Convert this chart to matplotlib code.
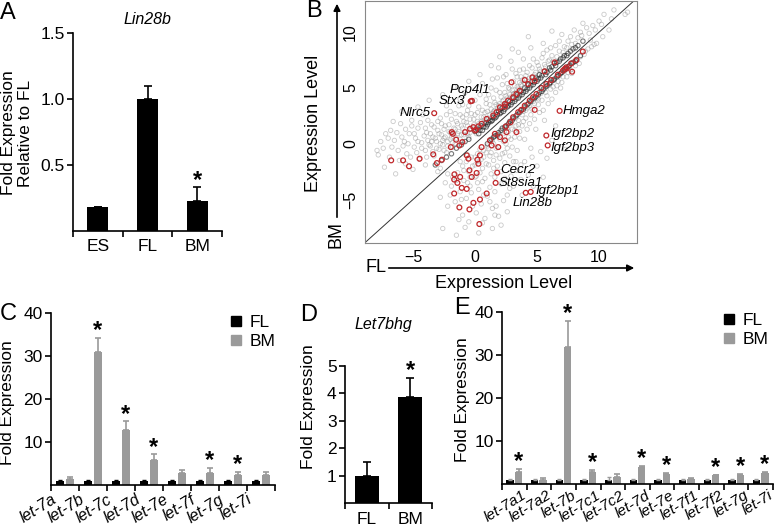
import numpy as np
import matplotlib
matplotlib.use("Agg")
import matplotlib.pyplot as plt
from matplotlib.lines import Line2D

plt.rcParams['font.family'] = ['Liberation Sans', 'DejaVu Sans']

W, H = 777, 532

# ---- data ----
# panel A
a_cats = ['ES', 'FL', 'BM']
a_vals = [0.18, 1.0, 0.23]
a_errs = [0.0, 0.10, 0.10]
a_star = [False, False, True]

# panel C
c_cats = ['let-7a', 'let-7b', 'let-7c', 'let-7d', 'let-7e', 'let-7f', 'let-7g', 'let-7i']
c_fl = [1.0, 1.0, 1.0, 1.0, 1.0, 1.0, 1.0, 1.0]
c_fl_err = [0.1, 0.1, 0.1, 0.1, 0.1, 0.1, 0.1, 0.1]
c_bm = [1.5, 30.9, 12.8, 5.7, 2.8, 2.9, 2.3, 2.4]
c_bm_err = [0.3, 3.4, 2.0, 1.4, 0.8, 1.0, 0.7, 0.7]
c_star = [False, True, True, True, False, True, True, False]

# panel D
d_cats = ['FL', 'BM']
d_vals = [1.0, 3.87]
d_errs = [0.5, 0.7]
d_star = [False, True]

# panel E
e_cats = ['let-7a1', 'let-7a2', 'let-7b', 'let-7c1', 'let-7c2', 'let-7d',
          'let-7e', 'let-7f1', 'let-7f2', 'let-7g', 'let-7i']
e_fl = [1.0, 1.0, 1.0, 1.0, 1.0, 1.0, 1.0, 1.0, 1.0, 1.0, 1.0]
e_fl_err = [0.1, 0.2, 0.1, 0.1, 0.7, 0.1, 0.1, 0.1, 0.1, 0.1, 0.1]
e_bm = [2.8, 1.0, 31.9, 2.7, 1.55, 3.9, 2.25, 1.15, 2.0, 2.1, 2.5]
e_bm_err = [0.7, 0.3, 6.1, 0.5, 0.7, 0.4, 0.35, 0.25, 0.2, 0.15, 0.3]
e_star = [True, False, True, True, False, True, True, False, True, True, True]

# panel B: scatter of expression levels (FL vs BM)
gray_cloud = [
    # upper band
    (-7.8, -1.0), (-7.2, 0.9), (-6.8, 1.2), (-6.5, 0.3), (-6.2, -0.6), (-6.0, 1.8), (-5.7, 0.2),
    (-5.5, -0.9), (-5.3, 0.9), (-5.1, 2.1), (-4.9, -0.3), (-4.8, 0.5), (-4.6, 1.4), (-4.5, -1.4),
    (-4.3, 0.1), (-4.2, 2.6), (-4.0, -0.6), (-3.9, 1.0), (-3.8, 0.3), (-3.6, -0.2), (-3.5, 1.7),
    (-3.4, 0.6), (-3.3, -1.1), (-3.1, 0.2), (-3.0, 1.2), (-2.9, -0.5), (-2.8, 2.3), (-2.7, 0.8),
    (-2.6, -0.1), (-2.5, 0.5), (-2.4, 1.6), (-2.3, -0.8), (-2.2, 0.2), (-2.1, 1.1), (-2.0, 2.9),
    (-1.9, 0.6), (-1.8, -0.3), (-1.7, 1.4), (-1.6, 0.0), (-1.5, 2.0), (-1.4, 0.9), (-1.3, 3.4),
    (-1.2, 0.4), (-1.1, 1.6), (-1.0, 2.4), (-0.9, 0.8), (-0.8, 4.6), (-0.7, 1.9), (-0.6, 3.0),
    (-0.5, 0.6), (-0.4, 2.2), (-0.3, 1.3), (-0.2, 3.8), (-0.1, 1.7), (0.0, 2.6), (0.1, 0.9),
    (0.2, 2.0), (0.3, 3.3), (0.4, 1.5), (0.5, 2.4), (0.6, 5.4), (0.7, 1.9), (0.8, 2.8),
    (0.9, 3.6), (1.0, 2.2), (1.1, 4.4), (1.2, 2.6), (1.3, 3.1), (1.4, 5.8), (1.5, 2.9),
    (1.6, 3.7), (1.7, 4.8), (1.8, 3.2), (1.9, 6.8), (2.0, 3.6), (2.1, 4.2), (2.2, 5.3),
    (2.3, 3.9), (2.4, 4.6), (2.5, 6.2), (2.6, 4.1), (2.7, 5.0), (2.8, 4.4), (2.9, 7.4),
    (3.0, 4.8), (3.1, 5.6), (3.2, 4.5), (3.3, 6.3), (3.4, 5.1), (3.5, 8.2), (3.6, 5.5),
    (3.7, 6.0), (3.8, 5.2), (3.9, 6.7), (4.0, 5.8), (4.2, 6.4), (4.4, 5.9), (4.5, 8.6),
    (4.6, 6.8), (4.8, 6.2), (5.0, 7.3), (5.2, 6.7), (5.4, 7.7), (5.6, 7.1), (5.8, 8.4),
    (6.0, 7.5), (6.2, 7.9), (6.5, 8.8), (6.8, 8.3), (7.0, 9.8), (7.2, 8.7), (7.5, 9.2),
    (7.8, 8.9), (8.0, 10.2), (8.3, 9.5), (8.6, 9.7), (9.0, 10.4), (9.5, 10.6), (10.0, 11.0),
    (10.8, 10.2), (11.2, 12.0), (12.1, 11.6), (12.3, 11.8),
    (-7.6, 0.2), (-7.4, -0.4), (-7.0, 0.5), (-6.7, -0.3), (-6.6, 2.0), (-6.3, 1.0), (-6.1, -1.5),
    (-5.9, 0.6), (-5.8, -0.2), (-5.6, 1.3), (-5.4, 0.0), (-5.2, -1.2), (-5.1, 1.6), (-4.9, 0.9),
    (-4.7, -0.8), (-4.6, 0.2), (-4.4, 1.9), (-4.3, -0.4), (-4.1, 0.7), (-4.0, 1.4), (-3.9, -1.2),
    (-3.8, 2.1), (-3.7, -0.1), (-3.6, 0.9), (-3.5, 0.2), (-3.4, -0.7), (-3.3, 1.5), (-3.2, 0.5),
    (-3.1, -0.4), (-3.0, 2.0), (-2.9, 0.9), (-2.8, 0.0), (-2.7, 1.8), (-2.6, 0.3), (-2.5, -0.6),
    (-2.5, 1.3), (-2.4, 0.6), (-2.3, 2.6), (-2.2, -0.2), (-2.1, 1.7), (-2.0, 0.4), (-2.0, 1.0),
    (-1.9, 2.2), (-1.8, 0.1), (-1.7, 0.9), (-1.6, 2.7), (-1.6, 1.3), (-1.5, 0.5), (-1.4, 1.8),
    (-1.3, -0.2), (-1.3, 1.1), (-1.2, 2.6), (-1.1, 0.8), (-1.0, 1.4), (-1.0, 3.5), (-0.9, 2.0),
    (-0.8, 1.1), (-0.7, 2.6), (-0.6, 0.9), (-0.6, 1.6), (-0.5, 3.4), (-0.4, 1.0), (-0.3, 2.7),
    (-0.2, 1.5), (-0.1, 2.2), (0.0, 3.9), (0.1, 1.4), (0.2, 2.8), (0.3, 1.8), (0.4, 4.4),
    (0.5, 2.0), (0.6, 3.0), (0.7, 2.4), (0.8, 1.8), (0.9, 4.0), (1.0, 2.9), (1.1, 2.3),
    (1.2, 3.5), (1.3, 5.0), (1.4, 2.7), (1.5, 4.1), (1.6, 3.0), (1.7, 3.5), (1.8, 5.9),
    (1.9, 3.4), (2.0, 4.6), (2.1, 3.3), (2.2, 3.8), (2.3, 6.0), (2.4, 3.6), (2.5, 4.3),
    (2.6, 5.4), (2.7, 3.9), (2.8, 4.9), (2.9, 4.2), (3.0, 6.7), (3.1, 4.5), (3.2, 5.2),
    (3.3, 4.6), (3.4, 6.0), (3.5, 4.9), (3.6, 6.6), (3.7, 5.3), (3.8, 5.7), (3.9, 7.6),
    (4.0, 5.4), (4.1, 6.1), (4.3, 5.6), (4.4, 7.0), (4.6, 6.0), (4.7, 7.6), (4.9, 6.4),
    (5.1, 7.0), (5.3, 6.5), (5.5, 8.1), (5.7, 6.9), (5.9, 7.4), (6.1, 8.6), (6.3, 7.4),
    (6.6, 7.8), (6.8, 9.2), (7.1, 8.2), (7.4, 8.6), (7.7, 9.6), (8.1, 9.0), (8.5, 10.0),
    (9.2, 9.9), (9.7, 10.2), (10.2, 10.7),
    # lower band
    (-1.0, -2.0), (-0.7, -1.6), (-0.5, -2.5), (-0.3, -1.2), (0.0, -1.9), (0.2, -0.9), (0.4, -2.6),
    (0.5, -1.4), (0.7, -0.6), (0.9, -1.8), (1.0, -0.2), (1.2, -1.1), (1.4, 0.3), (1.5, -2.2),
    (1.7, -0.4), (1.8, 0.7), (2.0, -1.3), (2.1, 1.0), (2.3, 0.2), (2.4, -0.8), (2.6, 1.4),
    (2.7, 0.6), (2.9, 1.8), (3.0, -0.3), (3.2, 1.2), (3.3, 2.3), (3.5, 1.7), (3.6, 0.5),
    (3.8, 2.6), (3.9, 2.0), (4.1, 3.0), (4.2, 1.3), (4.4, 3.4), (4.5, 2.6), (4.7, 3.8),
    (4.8, 2.2), (5.0, 4.1), (5.1, 3.5), (5.3, 4.5), (5.5, 3.0), (5.6, 4.9), (5.8, 4.3),
    (6.0, 5.3), (6.2, 4.0), (6.4, 5.7), (6.6, 5.2), (6.8, 6.1), (7.0, 5.5), (7.2, 6.5),
    (7.4, 6.0), (7.6, 6.9), (7.8, 6.3), (8.0, 7.3), (8.2, 7.6), (8.5, 7.8), (8.8, 8.0),
    (9.1, 8.5), (9.4, 8.7), (9.8, 9.0), (10.3, 9.6),
    (-1.2, -1.6), (-0.9, -2.4), (-0.6, -1.0), (-0.4, -3.0), (-0.2, -2.0), (0.0, -1.2), (0.1, -2.9),
    (0.3, -1.6), (0.4, -0.5), (0.6, -2.2), (0.7, -1.2), (0.8, -3.1), (0.9, -0.8), (1.1, -1.9),
    (1.1, -0.4), (1.3, -2.7), (1.3, -0.8), (1.5, -1.5), (1.5, 0.0), (1.6, -3.0), (1.7, -1.0),
    (1.8, -2.0), (1.9, -0.3), (2.0, 0.4), (2.1, -2.5), (2.2, -0.9), (2.3, 0.9), (2.4, -1.7),
    (2.5, 0.0), (2.6, -0.4), (2.7, 1.1), (2.8, -1.1), (2.9, 0.4), (3.0, 1.3), (3.1, -1.6),
    (3.2, 0.6), (3.3, 1.6), (3.4, -0.6), (3.5, 2.1), (3.6, 1.1), (3.7, -1.9), (3.8, 1.6),
    (3.9, 2.9), (4.0, 0.4), (4.1, 2.3), (4.2, 3.2), (4.4, 1.8), (4.5, -0.4), (4.6, 3.1),
    (4.8, 3.6), (4.9, 1.3), (5.1, 4.0), (5.2, 2.8), (5.4, 3.9), (5.6, 2.1), (5.7, 4.6),
    (5.9, 3.6), (6.1, 4.9), (6.3, 5.1), (6.5, 4.6), (6.7, 5.6), (6.9, 5.0), (7.1, 6.0),
    (7.5, 6.4), (7.7, 6.6), (8.1, 7.0), (8.4, 7.2), (8.9, 8.3), (9.6, 8.9),
    # scattered below the diagonal
    (-2.8, -2.2), (-2.4, -3.5), (-2.0, -4.6), (-1.8, -3.0), (-1.6, -5.2), (-1.4, -2.6), (-1.2, -4.3),
    (-1.0, -6.4), (-0.9, -3.3), (-0.7, -4.9), (-0.5, -7.0), (-0.4, -3.8), (-0.2, -5.6), (0.0, -3.0),
    (0.1, -6.2), (0.3, -4.1), (0.5, -5.4), (0.6, -3.4), (0.8, -6.7), (1.0, -4.7), (1.2, -3.9),
    (1.4, -5.8), (1.6, -4.3), (1.9, -6.5), (2.1, -3.6), (2.3, -5.1), (2.6, -4.6), (2.9, -2.9),
    (3.1, -3.8), (3.4, -2.4), (3.7, -3.2), (4.0, -1.6), (4.3, -2.8), (4.6, -1.2), (5.0, -2.0),
    (5.3, -0.7), (5.8, -1.3), (6.2, 0.3), (6.5, 1.6), (7.3, -0.5), (-2.6, -7.6), (-1.5, -8.2),
    (0.3, -8.0), (2.1, -7.3), (1.4, -7.6), (-0.8, -7.5),
    (-2.2, -2.7), (-1.9, -3.8), (-1.5, -3.3), (-1.1, -5.0), (-0.6, -3.5), (-0.3, -4.4), (0.2, -3.5),
    (0.7, -4.6), (1.2, -5.2), (1.7, -5.6), (2.4, -3.1), (2.8, -4.0), (3.3, -1.6), (-2.2, -5.6),
    (-1.3, -6.8), (0.6, -7.1), (1.6, -6.4), (2.6, -6.1), (-2.8, -4.8), (3.8, -4.6), (5.5, -3.0),
    (4.7, -3.8),
    # scattered above the diagonal
    (-7.9, -0.6), (-7.3, -2.1), (-6.9, -1.2), (-6.4, -2.7), (-5.9, 2.9), (-5.6, -1.8), (-5.0, -2.3),
    (-4.6, 3.3), (-4.0, -1.9), (-3.7, 3.9), (-3.0, -2.5), (-2.6, 4.4), (-2.3, 3.4), (-1.7, 5.1),
    (-1.2, 4.0), (-0.5, 5.6), (0.4, 6.2), (1.3, 7.0), (2.0, 7.8), (3.0, 8.5), (4.3, 9.6),
    (5.5, 9.0), (6.2, 10.1), (8.7, 10.8), (9.3, 9.3), (10.4, 11.6), (11.0, 11.2),
]

# dense streaks just above and just below the diagonal
gray_core = [
    (0.0, 1.1), (0.2, 1.3), (0.4, 1.2), (0.5, 1.6), (0.7, 1.5), (0.9, 1.9), (1.0, 1.7),
    (1.2, 2.1), (1.3, 2.0), (1.5, 2.4), (1.6, 2.3), (1.8, 2.6), (1.9, 2.9), (2.1, 2.8),
    (2.2, 3.2), (2.4, 3.1), (2.5, 3.5), (2.7, 3.4), (2.8, 3.8), (3.0, 3.7), (3.1, 4.1),
    (3.3, 4.0), (3.4, 4.4), (3.6, 4.3), (3.7, 4.7), (3.9, 4.6), (4.0, 5.0), (4.2, 4.9),
    (4.3, 5.3), (4.5, 5.2), (4.6, 5.6), (4.8, 5.5), (4.9, 5.9), (5.1, 5.8), (5.2, 6.2),
    (5.4, 6.1), (5.6, 6.5), (5.8, 6.4), (6.0, 6.8), (6.2, 6.9), (6.4, 7.2), (6.6, 7.3),
    (6.9, 7.6), (7.2, 7.9), (7.5, 8.1), (7.9, 8.5), (8.3, 8.8), (8.7, 9.2), (-0.5, 0.4),
    (-0.8, 0.2), (-1.1, -0.1), (-1.5, -0.4), (-1.9, -0.9), (-2.3, -1.2), (-2.7, -1.5), (-3.2, -1.9),
    (0.3, 0.9), (0.6, 1.2), (0.9, 1.5), (1.1, 1.9), (1.4, 2.1), (1.7, 2.4), (2.0, 2.7),
    (2.3, 2.9), (2.6, 3.3), (2.9, 3.5), (3.2, 3.8), (3.5, 4.1), (3.8, 4.4), (4.1, 4.7),
    (4.4, 5.0), (4.7, 5.3), (5.0, 5.6), (5.3, 5.9), (5.7, 6.2), (6.1, 6.6), (6.5, 7.0),
    (6.8, 7.4), (7.1, 7.7), (7.4, 7.9), (7.7, 8.3), (8.1, 8.6),
    (1.0, 0.0), (1.3, 0.4), (1.6, 0.7), (1.9, 1.0), (2.2, 1.4), (2.5, 1.6), (2.8, 2.0),
    (3.1, 2.3), (3.4, 2.6), (3.7, 3.0), (4.0, 3.3), (4.3, 3.6), (4.6, 4.0), (4.9, 4.2),
    (5.2, 4.6), (5.5, 4.9), (5.8, 5.2), (6.1, 5.5), (6.4, 5.8), (6.7, 6.1), (7.0, 6.4),
    (7.3, 6.7), (7.6, 7.0), (7.9, 7.3), (8.2, 7.5),
    (1.2, 0.3), (1.5, 0.6), (1.8, 0.8), (2.1, 1.2), (2.4, 1.5), (2.7, 1.8), (3.0, 2.1),
    (3.3, 2.5), (3.6, 2.8), (3.9, 3.1), (4.2, 3.5), (4.5, 3.8), (4.8, 4.1), (5.1, 4.4),
    (5.4, 4.7), (5.7, 5.1), (6.0, 5.4), (6.3, 5.7), (6.6, 6.0), (6.9, 6.3), (7.2, 6.6),
    (7.5, 6.9), (7.8, 7.2), (8.1, 7.4), (8.5, 7.9),
]

red_pts = [
    # labelled genes
    (-3.29, 2.74), (-0.35, 3.81), (-0.25, 3.85), (6.82, 2.95), (5.75, 0.74), (5.86, -0.15),
    (1.79, -2.59), (1.66, -3.51), (4.49, -4.32), (4.09, -4.40),
    # above the diagonal
    (-6.76, -1.49), (-5.80, -1.49), (-5.32, -2.02), (-4.47, -1.34), (-3.37, -0.95), (-3.07, -1.73),
    (-2.67, -1.43), (-1.95, -0.30), (-1.79, 0.89), (-1.87, 1.04), (-1.52, 0.36), (-1.26, -0.15),
    (-1.02, 0.15), (-0.80, 1.04), (-0.40, 1.34), (-0.13, 1.49), (0.08, 1.25), (0.27, 1.55),
    (0.53, 1.79), (0.94, 2.23), (1.47, 2.53), (1.74, 2.83), (2.01, 3.27), (2.41, 3.57),
    (2.67, 3.87), (2.94, 5.51), (3.07, 4.17), (3.34, 4.46), (3.61, 4.76), (4.01, 5.71),
    (4.28, 5.36), (4.63, 5.95), (4.81, 5.65), (5.61, 6.49), (6.42, 7.29), (0.00, 1.19),
    (2.41, 3.33),
    # below the diagonal
    (-0.67, -1.04), (-0.53, -1.34), (0.27, -1.79), (0.40, -1.04), (0.53, -0.30), (1.20, 0.30),
    (1.34, -0.15), (1.60, 0.89), (1.87, -0.30), (2.01, 0.60), (2.41, 0.30), (2.54, 1.04),
    (2.49, 1.55), (2.86, 1.93), (3.07, 2.38), (3.34, 1.04), (3.48, 2.83), (3.74, 3.04),
    (4.01, 3.42), (4.41, 3.87), (4.68, 4.17), (4.95, 4.46), (5.35, 5.00), (5.75, 5.36),
    (6.15, 5.71), (6.68, 6.19), (7.09, 6.55), (7.22, 6.70), (7.35, 6.85), (7.40, 6.75),
    (7.83, 6.46), (7.75, 7.20), (8.16, 7.50), (8.69, 8.27), (4.81, 3.04),
    # far below the diagonal
    (-1.66, -2.74), (-1.68, -3.21), (-1.42, -3.51), (-1.20, -2.98), (-1.07, -3.96), (-0.67, -4.05),
    (-0.45, -2.38), (-0.27, -2.98), (0.13, -2.62), (0.19, -1.43), (0.94, -4.46), (0.40, -5.00),
    (-0.13, -5.30), (-0.45, -5.89), (-1.26, -5.71), (0.35, -7.20), (-1.68, -4.46),
]

gene_labels = ['Pcp4l1', 'Stx3', 'Nlrc5', 'Hmga2', 'Igf2bp2', 'Igf2bp3',
               'Cecr2', 'St8sia1', 'Igf2bp1', 'Lin28b']
gene_x = [-0.45, -0.8, -3.6, 7.1, 6.1, 6.1, 2.0, 1.9, 4.85, 3.0]
gene_y = [4.85, 3.81, 2.74, 2.98, 0.89, -0.36, -2.32, -3.51, -4.23, -5.27]
gene_ha = ['center', 'right', 'right', 'left', 'left', 'left', 'left', 'left', 'left', 'left']

GRAY = '#9a9a9a'
FS = 12.5


def rect(l, t, r, b):
    return [l / W, 1 - b / H, (r - l) / W, (b - t) / H]


def ftext(x, y, s, **kw):
    fig.text(x / W, 1 - y / H, s, **kw)


def style_bar_axes(ax, ncat, yticks):
    for s in ['top', 'right']:
        ax.spines[s].set_visible(False)
    for s in ['left', 'bottom']:
        ax.spines[s].set_linewidth(1.2)
    ax.set_xlim(-0.5, ncat - 0.5)
    ax.set_yticks(yticks)
    ax.tick_params(axis='y', direction='out', length=4, width=1.2, labelsize=FS, pad=2)
    ax.set_xticks(np.arange(-0.5, ncat, 1.0), minor=False)
    ax.tick_params(axis='x', direction='out', length=4, width=1.2)


def star(ax, x, y):
    ax.annotate('*', (x, y), xytext=(0, -3), textcoords='offset points',
                ha='center', va='bottom', fontsize=17, fontweight='bold')


fig = plt.figure(figsize=(W / 100, H / 100), dpi=100)

# ---------------- A ----------------
axA = fig.add_axes(rect(73, 33, 222, 231))
xa = np.arange(len(a_cats))
axA.bar(xa, a_vals, width=0.42, color='black')
axA.errorbar(xa, a_vals, yerr=[np.zeros(3), a_errs], fmt='none', ecolor='black',
             elinewidth=1.2, capsize=3, capthick=1.2)
axA.set_ylim(0, 1.5)
style_bar_axes(axA, 3, [0.5, 1.0, 1.5])
axA.set_yticklabels(['0.5', '1.0', '1.5'])
axA.set_xticklabels([])
for i, c in enumerate(a_cats):
    axA.text(i, -0.12, c, ha='center', va='center', fontsize=FS)
for i, s in enumerate(a_star):
    if s:
        star(axA, i, a_vals[i] + a_errs[i])
ftext(147, 20, 'Lin28b', ha='center', va='center', fontsize=11.5, style='italic')
ftext(17, 133, 'Fold Expression\nRelative to FL', ha='center', va='center',
      rotation=90, fontsize=FS, linespacing=1.2)
ftext(8, 13, 'A', ha='center', va='center', fontsize=17)

# ---------------- B ----------------
axB = fig.add_axes(rect(365, 1, 637, 243))
g = np.array(gray_cloud)
gc = np.array(gray_core)
r = np.array(red_pts)
axB.scatter(g[:, 0], g[:, 1], s=10, facecolors='none', edgecolors='#8a8a8a',
            linewidths=0.6, alpha=0.45)
axB.scatter(gc[:, 0], gc[:, 1], s=10, facecolors='none', edgecolors='#1e1e1e',
            linewidths=0.8, alpha=0.6)
axB.scatter(r[:, 0], r[:, 1], s=12, facecolors='none', edgecolors='#c0282b',
            linewidths=0.9)
axB.plot([-20, 20], [-20, 20], color='#333333', lw=0.7)
axB.set_xlim(-8.87, 13.06)
axB.set_ylim(-8.9, 12.8)
for s in axB.spines.values():
    s.set_color('#888888')
    s.set_linewidth(0.8)
axB.set_xticks([-5, 0, 5, 10])
axB.set_yticks([-5, 0, 5, 10])
axB.tick_params(length=0, labelsize=11.5, pad=5)
plt.setp(axB.get_yticklabels(), rotation=90, va='center')
for lab, x, y, ha in zip(gene_labels, gene_x, gene_y, gene_ha):
    axB.text(x, y, lab, ha=ha, va='center', fontsize=9.5, style='italic')
axB.annotate('', xy=(337 / W, 1 - 1 / H), xytext=(337 / W, 1 - 220 / H),
             xycoords='figure fraction',
             arrowprops=dict(arrowstyle='-|>', color='black', lw=1.2, mutation_scale=10))
axB.annotate('', xy=(637 / W, 1 - 268 / H), xytext=(386 / W, 1 - 268 / H),
             xycoords='figure fraction',
             arrowprops=dict(arrowstyle='-|>', color='black', lw=1.2, mutation_scale=10))
ftext(336, 234, 'BM', ha='center', va='center', rotation=90, fontsize=13)
ftext(376, 268, 'FL', ha='center', va='center', fontsize=13)
ftext(314, 123, 'Expression Level', ha='center', va='center', rotation=90, fontsize=13)
ftext(504, 283, 'Expression Level', ha='center', va='center', fontsize=13)
ftext(314, 11, 'B', ha='center', va='center', fontsize=17)

# ---------------- C ----------------
axC = fig.add_axes(rect(51, 313, 275, 485))
xc = np.arange(len(c_cats))
axC.bar(xc - 0.17, c_fl, width=0.3, color='black', label='FL')
axC.bar(xc + 0.17, c_bm, width=0.3, color=GRAY, label='BM')
axC.errorbar(xc - 0.17, c_fl, yerr=[np.zeros(8), c_fl_err], fmt='none', ecolor='black',
             elinewidth=1, capsize=1.5)
axC.errorbar(xc + 0.17, c_bm, yerr=[np.zeros(8), c_bm_err], fmt='none', ecolor=GRAY,
             elinewidth=1.2, capsize=2.5, capthick=1.2)
axC.set_ylim(0, 40)
style_bar_axes(axC, 8, [10, 20, 30, 40])
axC.set_xticklabels(c_cats + [''], rotation=32, ha='right', rotation_mode='anchor',
                    fontsize=11.5, style='italic')
axC.tick_params(axis='x', pad=1)
for i, s in enumerate(c_star):
    if s:
        star(axC, i + 0.17, c_bm[i] + c_bm_err[i])
ftext(8, 403, 'Fold Expression', ha='center', va='center', rotation=90, fontsize=FS)
ftext(8, 314, 'C', ha='center', va='center', fontsize=17)

# ---------------- D ----------------
axD = fig.add_axes(rect(345, 366, 432, 503))
xd = np.arange(len(d_cats))
axD.bar(xd, d_vals, width=0.55, color='black')
axD.errorbar(xd, d_vals, yerr=[np.zeros(2), d_errs], fmt='none', ecolor='black',
             elinewidth=1.2, capsize=3, capthick=1.2)
axD.set_ylim(0, 5)
style_bar_axes(axD, 2, [1, 2, 3, 4, 5])
axD.set_xticklabels([])
for i, c in enumerate(d_cats):
    axD.text(i, -0.6, c, ha='center', va='center', fontsize=FS)
for i, s in enumerate(d_star):
    if s:
        star(axD, i, d_vals[i] + d_errs[i])
ftext(383, 325, 'Let7bhg', ha='center', va='center', fontsize=11.5, style='italic')
ftext(309, 407, 'Fold Expression', ha='center', va='center', rotation=90, fontsize=FS)
ftext(309, 315, 'D', ha='center', va='center', fontsize=17)

# ---------------- E ----------------
axE = fig.add_axes(rect(502, 312, 773, 484))
xe = np.arange(len(e_cats))
axE.bar(xe - 0.17, e_fl, width=0.3, color='black', label='FL')
axE.bar(xe + 0.17, e_bm, width=0.3, color=GRAY, label='BM')
axE.errorbar(xe - 0.17, e_fl, yerr=[np.zeros(11), e_fl_err], fmt='none', ecolor=GRAY,
             elinewidth=1, capsize=1.5)
axE.errorbar(xe + 0.17, e_bm, yerr=[np.zeros(11), e_bm_err], fmt='none', ecolor=GRAY,
             elinewidth=1.2, capsize=2.5, capthick=1.2)
axE.set_ylim(0, 40)
style_bar_axes(axE, 11, [10, 20, 30, 40])
axE.set_xticks(xe + 0.3, minor=True)
axE.set_xticklabels([])
axE.set_xticklabels(e_cats, minor=True, rotation=32, ha='right', rotation_mode='anchor',
                    fontsize=11, style='italic')
axE.tick_params(axis='x', which='minor', length=0, pad=3)
for i, s in enumerate(e_star):
    if s:
        star(axE, i + 0.17, e_bm[i] + e_bm_err[i])
ftext(462, 400, 'Fold Expression', ha='center', va='center', rotation=90, fontsize=FS)
ftext(462, 308, 'E', ha='center', va='center', fontsize=17)

# legends
for ax, (lx, ly) in [(axC, (229, 315)), (axE, (722, 313))]:
    handles = [Line2D([], [], marker='s', ls='none', color='black', markersize=7),
               Line2D([], [], marker='s', ls='none', color=GRAY, markersize=7)]
    fig.legend(handles=handles, labels=['FL', 'BM'], loc='upper left',
               bbox_to_anchor=(lx / W, 1 - ly / H), frameon=False, fontsize=FS,
               handlelength=0.8, handletextpad=0.4, labelspacing=0.2, borderpad=0,
               borderaxespad=0)

fig.savefig('out.png', dpi=100)
